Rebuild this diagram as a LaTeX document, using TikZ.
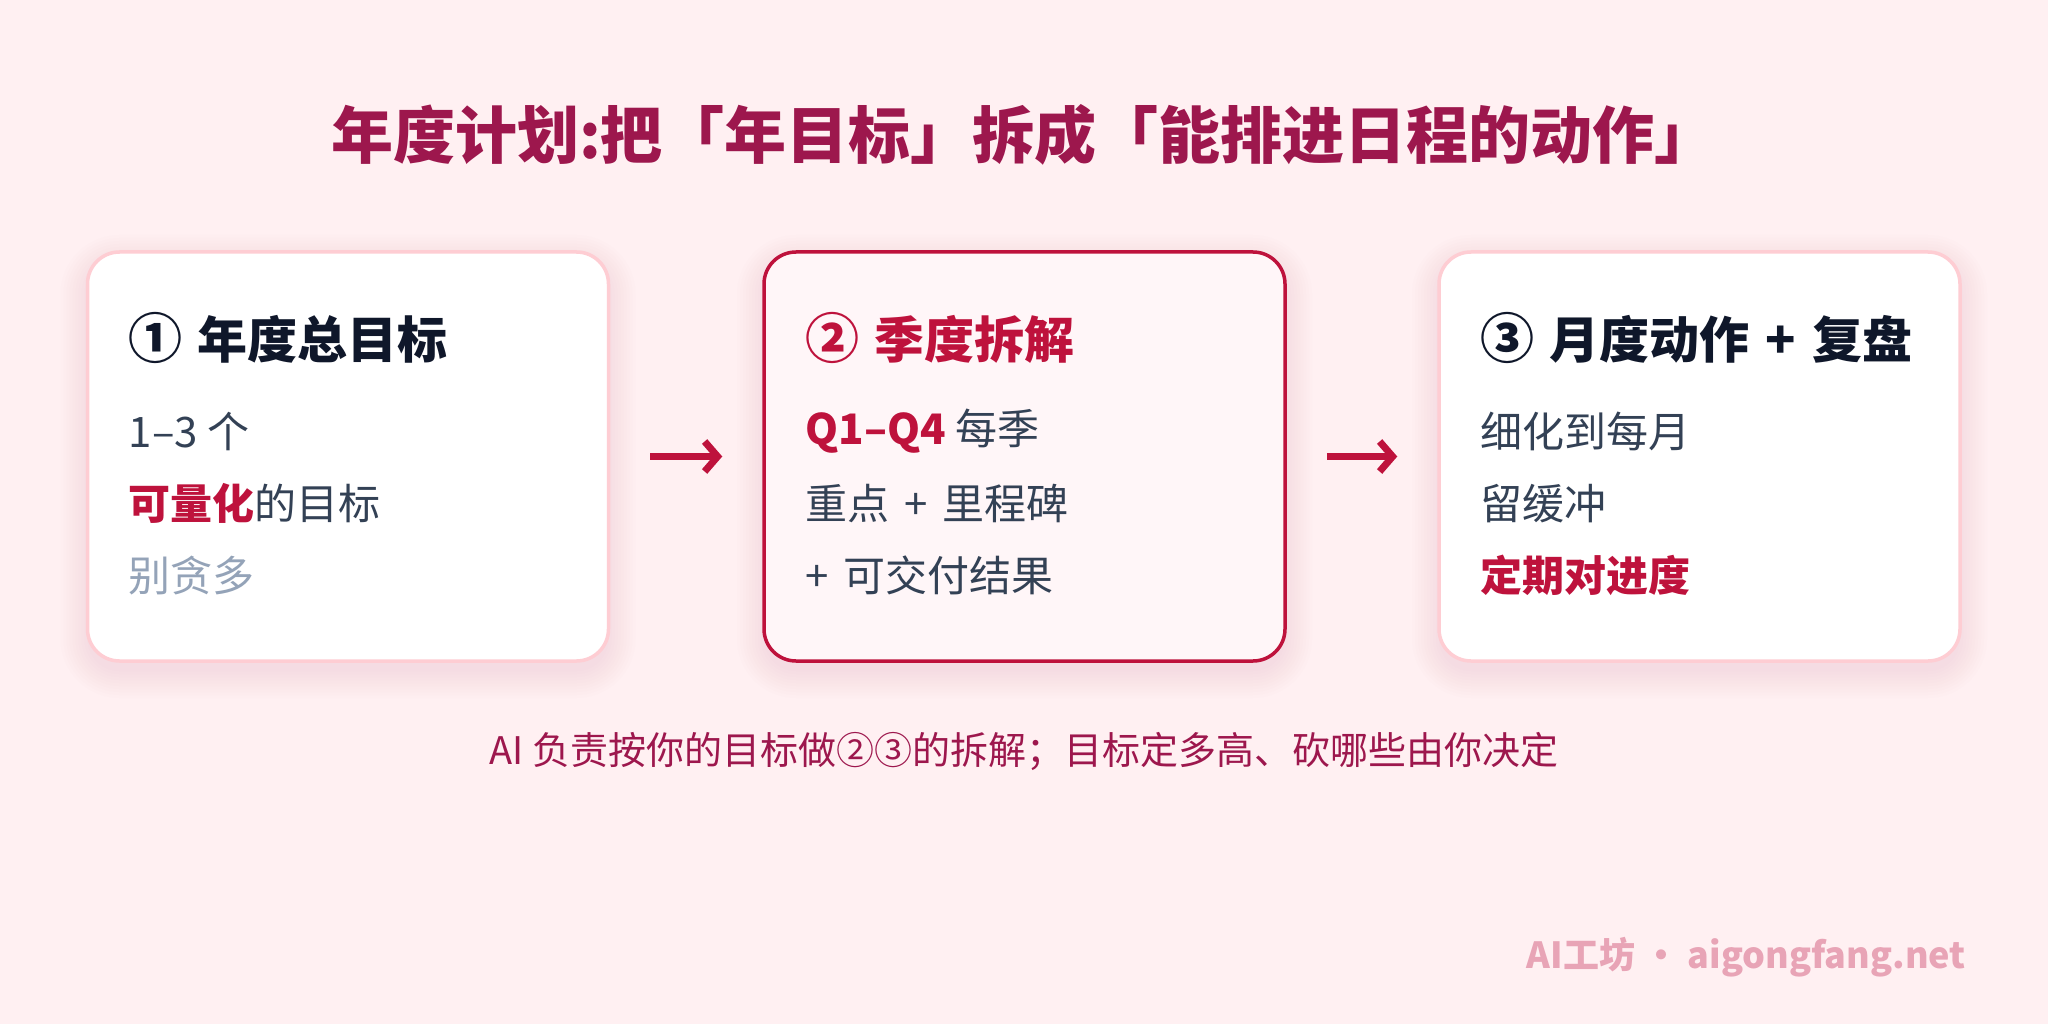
\documentclass[tikz,border=0pt]{standalone}
\usepackage{fontspec}
\setmainfont{Noto Sans CJK SC}
\usetikzlibrary{calc,arrows.meta}
\definecolor{bgc}{HTML}{FFF0F2}
\definecolor{titlec}{HTML}{9D174D}
\definecolor{accent}{HTML}{BE123C}
\definecolor{headc}{HTML}{0F172A}
\definecolor{bodyc}{HTML}{334155}
\definecolor{grayc}{HTML}{94A3B8}
\definecolor{lightb}{HTML}{FECDD3}
\definecolor{card2}{HTML}{FFF6F8}
\definecolor{shadowc}{HTML}{F2B8C4}
\definecolor{wmc}{HTML}{E8A4B6}
\newcommand{\circd}[1]{{\fontsize{54}{60}\selectfont #1}\hspace{0.3em}}
\tikzset{
  card/.style={rounded corners=32pt, minimum width=521pt, minimum height=409pt, inner sep=0pt},
  cardlight/.style={card, draw=lightb, line width=3.5pt, fill=white},
  cardstrong/.style={card, draw=accent, line width=3.5pt, fill=card2},
  headtxt/.style={anchor=west, inner sep=0pt, font=\fontsize{50}{60}\selectfont\bfseries},
  bodytxt/.style={anchor=west, inner sep=0pt, font=\fontsize{42}{50}\selectfont, text=bodyc},
  flowarrow/.style={draw=accent, line width=7pt, -{Straight Barb[length=13pt, width=30pt, line width=7pt]}, shorten <=40pt, shorten >=40pt}
}
\begin{document}
\begin{tikzpicture}[x=1pt, y=-1pt]
\fill[bgc] (0,0) rectangle (2048,1024);
\useasboundingbox (0,0) rectangle (2048,1024);
% soft shadows
\foreach \cx in {348,1024.5,1699.5}{
  \foreach \i in {0,...,9}{
    \pgfmathsetmacro{\rr}{32+\i*3}
    \fill[shadowc, opacity=0.028, rounded corners=\rr pt]
      (\cx-260.5-\i*3, 262-\i*3) rectangle (\cx+260.5+\i*3, 671+\i*3);
  }
}
% title
\node[inner sep=0pt, text=titlec, font=\fontsize{62}{70}\selectfont\bfseries] (title) at (1024,135) {年度计划:把「年目标」拆成「能排进日程的动作」};
% cards
\node[cardlight] (b1) at (348,456.5) {};
\node[cardstrong] (b2) at (1024.5,456.5) {};
\node[cardlight] (b3) at (1699.5,456.5) {};
% card 1
\node[headtxt, text=headc] (h1) at ($(b1.north west)+(43,88)$) {\circd{①}年度总目标};
\node[bodytxt] (l11) at ($(b1.north west)+(43,181)$) {1–3 个};
\node[bodytxt] (l12) at ($(b1.north west)+(43,253)$) {\textcolor{accent}{\bfseries 可量化}的目标};
\node[bodytxt, text=grayc] (l13) at ($(b1.north west)+(43,325)$) {别贪多};
% card 2
\node[headtxt, text=accent] (h2) at ($(b2.north west)+(43,88)$) {\circd{②}季度拆解};
\node[bodytxt] (l21) at ($(b2.north west)+(43,181)$) {\textcolor{accent}{\bfseries Q1–Q4} 每季};
\node[bodytxt] (l22) at ($(b2.north west)+(43,253)$) {重点\hspace{0.35em}+\hspace{0.35em}里程碑};
\node[bodytxt] (l23) at ($(b2.north west)+(43,325)$) {+\hspace{0.35em}可交付结果};
% card 3
\node[headtxt, text=headc] (h3) at ($(b3.north west)+(43,88)$) {\circd{③}月度动作\hspace{0.33em}+\hspace{0.33em}复盘};
\node[bodytxt] (l31) at ($(b3.north west)+(43,181)$) {细化到每月};
\node[bodytxt] (l32) at ($(b3.north west)+(43,253)$) {留缓冲};
\node[bodytxt, text=accent, font=\fontsize{42}{50}\selectfont\bfseries] (l33) at ($(b3.north west)+(43,325)$) {定期对进度};
% arrows
\draw[flowarrow] (b1.east) -- (b2.west);
\draw[flowarrow] (b2.east) -- (b3.west);
% note
\node[inner sep=0pt, text=titlec, font=\fontsize{38}{44}\selectfont] (note) at (1024,751) {AI 负责按你的目标做②③的拆解；目标定多高、砍哪些由你决定};
% watermark
\node[anchor=east, inner sep=0pt, text=wmc, font=\fontsize{36}{42}\selectfont\bfseries] (wm) at (1966,957) {AI工坊 · aigongfang.net};
\end{tikzpicture}
\end{document}
